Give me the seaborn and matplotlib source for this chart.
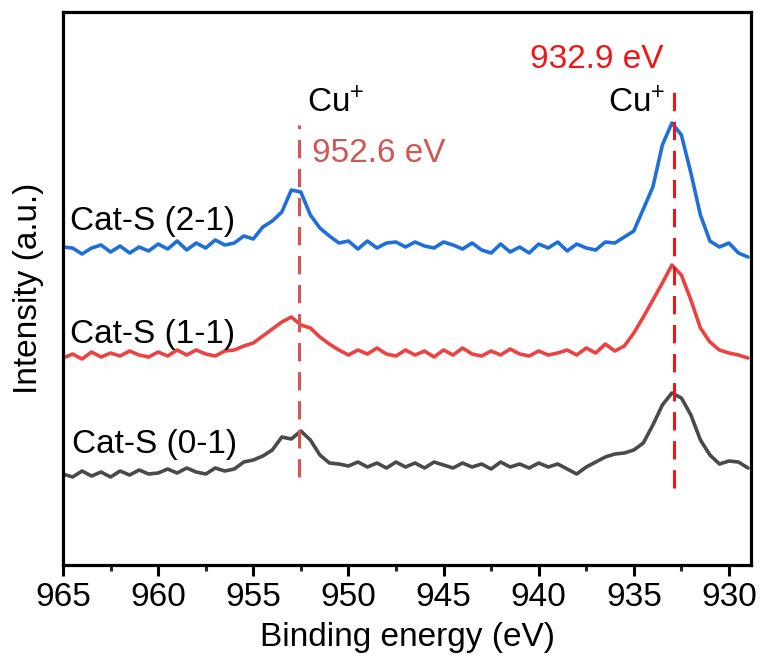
import numpy as np
import pandas as pd
import matplotlib
matplotlib.use("Agg")
import matplotlib.pyplot as plt
import seaborn as sns

# ---- data ----
energy = np.round(np.arange(965.0, 928.99, -0.5), 2)

cat_21 = [318, 317, 311, 317, 320, 313, 319, 312, 318, 314,
          321, 316, 324, 315, 322, 317, 325, 320, 322, 329,
          326, 338, 344, 353, 375, 373, 350, 337, 329, 322,
          324, 316, 324, 317, 322, 323, 318, 323, 319, 317,
          323, 320, 316, 322, 315, 312, 321, 313, 318, 312,
          321, 317, 323, 314, 321, 317, 315, 323, 322, 328,
          334, 356, 378, 420, 442, 430, 392, 350, 324, 318,
          322, 312, 308]

cat_11 = [207, 211, 206, 213, 208, 212, 209, 214, 210, 208,
          213, 209, 215, 210, 215, 211, 209, 214, 215, 219,
          222, 229, 236, 243, 248, 240, 237, 228, 221, 215,
          210, 215, 211, 217, 211, 209, 215, 210, 214, 208,
          215, 210, 217, 211, 209, 214, 210, 216, 211, 209,
          214, 210, 212, 215, 210, 217, 212, 221, 214, 219,
          232, 248, 265, 282, 300, 290, 265, 237, 223, 215,
          212, 210, 207]

cat_01 = [91, 88, 94, 89, 93, 88, 94, 90, 95, 91,
          92, 96, 92, 97, 93, 91, 97, 94, 96, 103,
          105, 109, 115, 128, 126, 134, 125, 110, 102, 101,
          99, 103, 98, 102, 97, 103, 98, 102, 97, 103,
          100, 97, 102, 98, 101, 96, 103, 98, 101, 97,
          102, 98, 101, 96, 91, 98, 103, 108, 111, 112,
          115, 122, 140, 160, 172, 167, 150, 125, 110, 101,
          104, 103, 97]

series_names = ["Cat-S (0-1)", "Cat-S (1-1)", "Cat-S (2-1)"]
series_colors = ["#4a4a4a", "#ec4242", "#1f6fdb"]
peak_labels = ["952.6 eV", "932.9 eV"]

# ---- style ----
sns.set_style("ticks")
plt.rcParams['font.family'] = ['Liberation Sans', 'DejaVu Sans']
plt.rcParams['mathtext.fontset'] = 'custom'
plt.rcParams['mathtext.rm'] = 'Liberation Sans'
plt.rcParams['mathtext.it'] = 'Liberation Sans'

fig = plt.figure(figsize=(7.61, 6.56), dpi=100)
ax = fig.add_axes([0.0828, 0.1387, 0.9869 - 0.0828, 0.9817 - 0.1387])

for name, vals, col in zip(series_names, [cat_01, cat_11, cat_21], series_colors):
    df = pd.DataFrame({"energy": energy, "intensity": vals})
    sns.lineplot(data=df, x="energy", y="intensity", ax=ax, color=col,
                 linewidth=2.6, estimator=None, sort=False)

# dashed reference lines
ax.plot([952.6, 952.6], [88, 440], ls=(0, (6, 3.5)), color="#d25656", lw=2.2)
ax.plot([932.9, 932.9], [77, 478], ls=(0, (6, 3.5)), color="#f01616", lw=2.2)

fs = 24
ax.text(952.18, 453, "Cu$^{+}$", fontsize=fs, color="black", ha="left", va="baseline")
ax.text(951.92, 403, peak_labels[0], fontsize=fs, color="#d25656", ha="left", va="baseline")
ax.text(940.46, 497, peak_labels[1], fontsize=fs, color="#f01616", ha="left", va="baseline")
ax.text(936.36, 453, "Cu$^{+}$", fontsize=fs, color="black", ha="left", va="baseline")

ax.text(964.63, 335, series_names[2], fontsize=fs, color="black", ha="left", va="baseline")
ax.text(964.63, 222, series_names[1], fontsize=fs, color="black", ha="left", va="baseline")
ax.text(964.53, 112, series_names[0], fontsize=fs, color="black", ha="left", va="baseline")

ax.set_xlim(965, 928.84)
ax.set_ylim(0, 553)
ax.set_xticks([965, 960, 955, 950, 945, 940, 935, 930])
ax.set_xticks(np.arange(962.5, 929, -5), minor=True)
ax.set_yticks([])
ax.tick_params(axis="x", which="major", direction="out", length=8, width=2.2,
               labelsize=fs, pad=4, colors="black")
ax.tick_params(axis="x", which="minor", direction="out", length=4.5, width=2.2)
for sp in ax.spines.values():
    sp.set_visible(True)
    sp.set_linewidth(2.3)
    sp.set_color("black")

ax.set_xlabel("Binding energy (eV)", fontsize=fs, labelpad=7, color="black")
ax.set_ylabel("Intensity (a.u.)", fontsize=fs, labelpad=14, color="black")

fig.savefig("out.png", dpi=100)
